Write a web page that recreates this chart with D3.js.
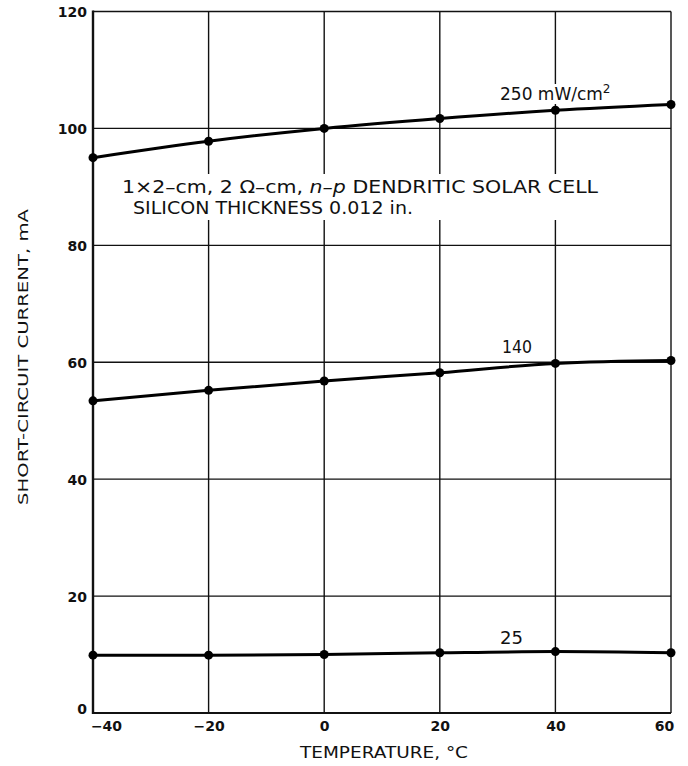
<!DOCTYPE html>
<html>
<head>
<meta charset="utf-8">
<script src="https://cdn.jsdelivr.net/npm/d3@7"></script>
<style>
  html, body { margin: 0; padding: 0; background: #fff; }
  svg { display: block; }
  text { font-family: "DejaVu Sans", "Liberation Sans", Arial, sans-serif; fill: #111; }
</style>
</head>
<body>
<svg id="chart" width="688" height="766"></svg>
<script>
// Temperature (°C) at which each measurement was taken
const temperatures = [-40, -20, 0, 20, 40, 60];

// Short-circuit current (mA) for each illumination level
const current250 = [95.0, 97.8, 100.0, 101.7, 103.1, 104.1];
const current140 = [53.4, 55.2, 56.8, 58.2, 59.8, 60.3];
const current25  = [9.9, 9.9, 10.0, 10.3, 10.5, 10.3];

const seriesLabels = ["250", "140", "25"];

const xTicks = [-40, -20, 0, 20, 40, 60];
const yTicks = [0, 20, 40, 60, 80, 100, 120];

const series = [
  { name: seriesLabels[0], values: current250 },
  { name: seriesLabels[1], values: current140 },
  { name: seriesLabels[2], values: current25 }
];

const W = 688, H = 766;
const margin = { top: 11.5, right: 17, bottom: 53, left: 93 };
const svg = d3.select("#chart");

const x = d3.scaleLinear().domain([-40, 60]).range([margin.left, W - margin.right]);
const y = d3.scaleLinear().domain([0, 120]).range([H - margin.bottom, margin.top]);

// Grid lines
const grid = svg.append("g").attr("stroke", "#111").attr("stroke-width", 1.4);
grid.selectAll("line.v").data(xTicks.slice(1)).join("line")
  .attr("x1", d => x(d)).attr("x2", d => x(d))
  .attr("y1", y(120)).attr("y2", y(0));
grid.selectAll("line.h").data(yTicks.slice(1)).join("line")
  .attr("x1", x(-40)).attr("x2", x(60))
  .attr("y1", d => y(d)).attr("y2", d => y(d));

// Left and bottom axis lines, heavier than the grid
svg.append("line").attr("x1", x(-40)).attr("x2", x(-40))
  .attr("y1", y(120) - 1).attr("y2", y(0) + 1)
  .attr("stroke", "#111").attr("stroke-width", 2.4);
svg.append("line").attr("x1", x(-40)).attr("x2", x(60))
  .attr("y1", y(0)).attr("y2", y(0))
  .attr("stroke", "#111").attr("stroke-width", 2.2);

// Axis tick labels
const xAxis = d3.axisBottom(x).tickValues(xTicks).tickSize(0).tickPadding(8)
  .tickFormat(d => d < 0 ? "\u2212" + Math.abs(d) : String(d));
const gx = svg.append("g").attr("transform", `translate(0,${y(0)})`).call(xAxis);
gx.select(".domain").remove();
gx.selectAll("text").style("font-size", "14px").style("font-weight", "bold")
  .attr("fill", "#111")
  .attr("dx", d => d === -40 ? 13 : (d === 60 ? -7 : 0));

const yAxis = d3.axisLeft(y).tickValues(yTicks).tickSize(0).tickPadding(6);
const gy = svg.append("g").attr("transform", `translate(${x(-40)},0)`).call(yAxis);
gy.select(".domain").remove();
gy.selectAll("text").style("font-size", "14px").style("font-weight", "bold")
  .attr("fill", "#111")
  .attr("dy", d => d === 0 ? "0.05em" : "0.36em");

// Axis titles
svg.append("text")
  .attr("x", 300).attr("y", 758)
  .attr("textLength", 168).attr("lengthAdjust", "spacingAndGlyphs")
  .style("font-size", "15px")
  .text("TEMPERATURE, \u00B0C");
svg.append("text")
  .attr("transform", `translate(28,505) rotate(-90)`)
  .attr("textLength", 296).attr("lengthAdjust", "spacingAndGlyphs")
  .style("font-size", "14px")
  .text("SHORT-CIRCUIT CURRENT, mA");

// Annotation block, with a white backing that breaks the grid behind it
const note = svg.append("g");
note.append("rect").attr("x", 114).attr("y", 174).attr("width", 490).attr("height", 46).attr("fill", "#fff");
const line1 = note.append("text").attr("x", 122).attr("y", 193)
  .attr("textLength", 476).attr("lengthAdjust", "spacingAndGlyphs")
  .style("font-size", "18px");
line1.append("tspan").text("1\u00D72\u2013cm, 2 \u03A9\u2013cm, ");
line1.append("tspan").style("font-style", "italic").text("n\u2013p");
line1.append("tspan").text(" DENDRITIC SOLAR CELL");
note.append("text").attr("x", 133).attr("y", 214)
  .attr("textLength", 280).attr("lengthAdjust", "spacingAndGlyphs")
  .style("font-size", "18px")
  .text("SILICON THICKNESS 0.012 in.");

// Curve labels
const lab250 = svg.append("g");
lab250.append("rect").attr("x", 497).attr("y", 84).attr("width", 132).attr("height", 20).attr("fill", "#fff");
const t250 = lab250.append("text").attr("x", 500).attr("y", 100).style("font-size", "17px");
t250.append("tspan").text(seriesLabels[0] + " mW/cm");
t250.append("tspan").attr("dy", -7).style("font-size", "12px").text("2");

svg.append("text").attr("x", 502).attr("y", 353)
  .attr("textLength", 30).attr("lengthAdjust", "spacingAndGlyphs")
  .style("font-size", "17px").text(seriesLabels[1]);
svg.append("text").attr("x", 500).attr("y", 644)
  .attr("textLength", 23).attr("lengthAdjust", "spacingAndGlyphs")
  .style("font-size", "17px").text(seriesLabels[2]);

// Curves and measured points
const line = d3.line()
  .x((d, i) => x(temperatures[i]))
  .y(d => y(d))
  .curve(d3.curveMonotoneX);

const curves = svg.append("g");
series.forEach(s => {
  curves.append("path").datum(s.values)
    .attr("d", line).attr("fill", "none")
    .attr("stroke", "#000").attr("stroke-width", 3);
  curves.selectAll(null).data(s.values).join("circle")
    .attr("cx", (d, i) => x(temperatures[i]))
    .attr("cy", d => y(d))
    .attr("r", 4.5).attr("fill", "#000");
});
</script>
</body>
</html>
